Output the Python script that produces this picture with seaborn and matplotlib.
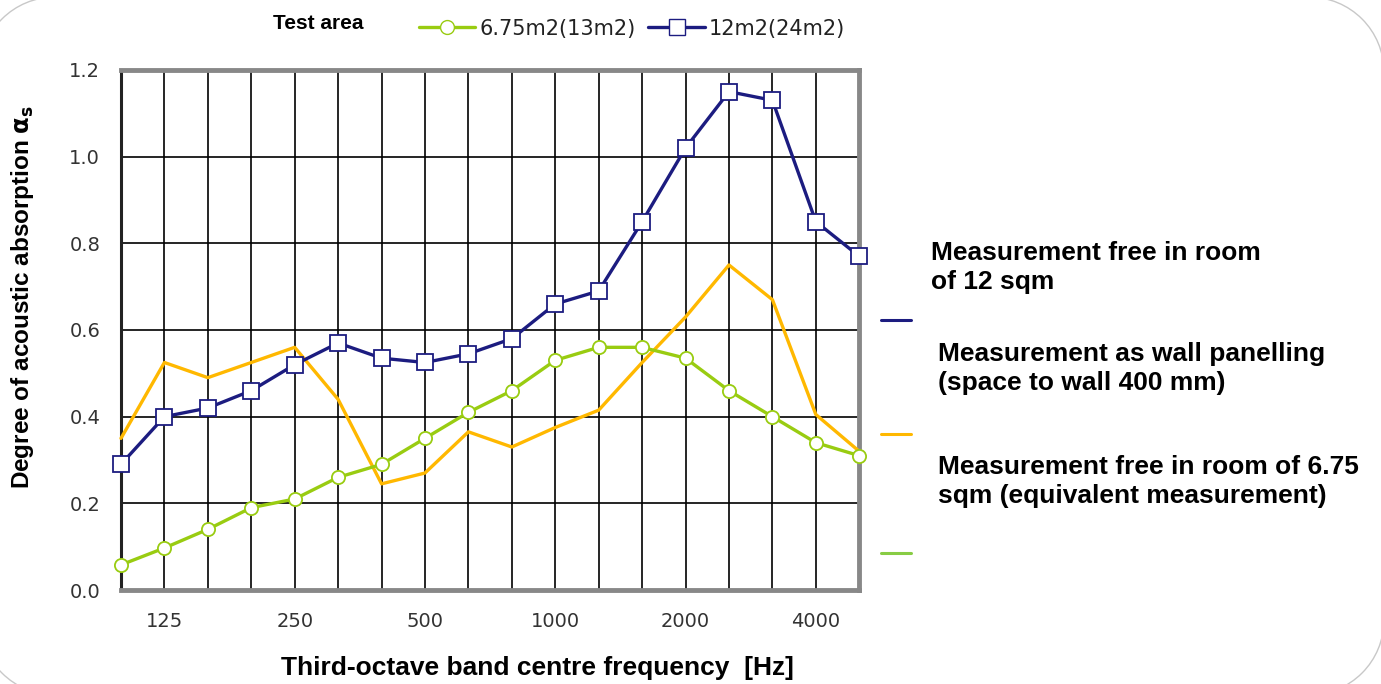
import numpy as np
import pandas as pd
import seaborn as sns
import matplotlib.pyplot as plt
from matplotlib.patches import Arc
from matplotlib.lines import Line2D

# third-octave bands
freqs = [100, 125, 160, 200, 250, 315, 400, 500, 630, 800, 1000, 1250, 1600, 2000, 2500, 3150, 4000, 5000]
shown_labels = [125, 250, 500, 1000, 2000, 4000]

# 12m2(24m2) - free in room of 12 sqm
blue_vals = [0.29, 0.40, 0.42, 0.46, 0.52, 0.57, 0.535, 0.525, 0.545, 0.58, 0.66, 0.69, 0.85, 1.02, 1.15, 1.13, 0.85, 0.77]
# 6.75m2(13m2) - free in room of 6.75 sqm
green_vals = [0.058, 0.097, 0.14, 0.19, 0.21, 0.26, 0.29, 0.35, 0.41, 0.46, 0.53, 0.56, 0.56, 0.535, 0.46, 0.40, 0.34, 0.31]
# wall panelling, 400 mm to wall
orange_vals = [0.35, 0.525, 0.49, 0.525, 0.56, 0.44, 0.245, 0.27, 0.365, 0.33, 0.375, 0.415, 0.525, 0.63, 0.75, 0.67, 0.405, 0.32]

BLUE = "#1c1c80"
GREEN = "#99cc11"
ORANGE = "#ffb800"

sns.set_style("white")
plt.rcParams['font.family'] = ['Liberation Sans', 'DejaVu Sans']
plt.rcParams['text.color'] = 'black'
plt.rcParams['axes.labelcolor'] = 'black'

idx = np.arange(len(freqs))
df = pd.DataFrame({"pos": idx, "blue": blue_vals, "green": green_vals, "orange": orange_vals})

fig = plt.figure(figsize=(13.81, 6.84), dpi=100)

# faint rounded slide border: only its corners fall inside the canvas
bg = fig.add_axes([0, 0, 1, 1], zorder=-1)
bg.set_xlim(0, 1381)
bg.set_ylim(0, 684)
bg.axis("off")
for cx, cy, t1, t2 in [(55, 612, 90, 180), (1309, 612, 0, 90), (1309, 64, 270, 360), (55, 64, 180, 270)]:
    bg.add_patch(Arc((cx, cy), 150, 150, theta1=t1, theta2=t2, color="#c8c8c8", linewidth=1.0))

ax = fig.add_axes([0.0876, 0.1374, 0.5346, 0.7603])

sns.lineplot(data=df, x="pos", y="orange", ax=ax, color=ORANGE, linewidth=2.4, clip_on=False, zorder=3)
sns.lineplot(data=df, x="pos", y="green", ax=ax, color=GREEN, linewidth=2.4, marker="o",
             markersize=9.5, markerfacecolor="white", markeredgecolor=GREEN, markeredgewidth=1.3,
             clip_on=False, zorder=4)
sns.lineplot(data=df, x="pos", y="blue", ax=ax, color=BLUE, linewidth=2.4, marker="s",
             markersize=11, markerfacecolor="white", markeredgecolor=BLUE, markeredgewidth=1.3,
             clip_on=False, zorder=5)

ax.set_xlim(0, len(freqs) - 1)
ax.set_ylim(0, 1.2)
ax.set_xticks(idx)
ax.set_xticklabels([str(f) if f in shown_labels else "" for f in freqs], family="DejaVu Sans")
ax.set_yticks(np.arange(0, 1.21, 0.2))
ax.set_yticklabels([f"{v:.1f}" for v in np.arange(0, 1.21, 0.2)], family="DejaVu Sans")
ax.tick_params(axis="x", length=0, pad=16, labelsize=14, labelcolor="#333333")
ax.tick_params(axis="y", length=9, width=1.2, color="#222222", pad=6, labelsize=14, labelcolor="#333333")
ax.grid(True, color="black", linewidth=1.2)
ax.set_axisbelow(True)

for side in ["top", "right", "bottom"]:
    ax.spines[side].set_color("#888888")
    ax.spines[side].set_linewidth(3.5)
ax.spines["left"].set_color("#222222")
ax.spines["left"].set_linewidth(2.2)

ax.set_xlabel("")
ax.set_ylabel("")
fig.text(0.389, 0.023, "Third-octave band centre frequency  [Hz]", fontsize=19, fontweight="bold",
         ha="center", va="center")
fig.text(0.016, 0.566, r"Degree of acoustic absorption $\mathbf{\alpha_s}$", fontsize=17.5, fontweight="bold",
         ha="center", va="center", rotation=90)

# top legend
handles = [Line2D([], [], color=GREEN, linewidth=2.4, marker="o", markersize=10, markerfacecolor="white",
                  markeredgecolor=GREEN),
           Line2D([], [], color=BLUE, linewidth=2.4, marker="s", markersize=11, markerfacecolor="white",
                  markeredgecolor=BLUE)]
fig.legend(handles, ["6.75m2(13m2)", "12m2(24m2)"], loc="center left", bbox_to_anchor=(0.290, 0.958),
           ncol=2, frameon=False, prop={"family": "DejaVu Sans", "size": 15}, labelcolor="#222222",
           handlelength=2.7, handletextpad=0.2, columnspacing=0.6)
fig.text(0.198, 0.965, "Test area", fontsize=15, fontweight="bold", va="center")

# right-side notes with short colour keys
notes = [("Measurement free in room\nof 12 sqm", 0.609),
         ("Measurement as wall panelling\n(space to wall 400 mm)", 0.461),
         ("Measurement free in room of 6.75\nsqm (equivalent measurement)", 0.296)]
note_x = [0.674, 0.679, 0.679]
for (txt, y), x in zip(notes, note_x):
    fig.text(x, y, txt, fontsize=19, fontweight="bold", va="center", linespacing=1.25)
for col, y in zip([BLUE, ORANGE, "#88cc44"], [0.532, 0.366, 0.192]):
    fig.add_artist(Line2D([0.638, 0.660], [y, y], color=col, linewidth=2.2))

fig.savefig("out.png", dpi=100)
